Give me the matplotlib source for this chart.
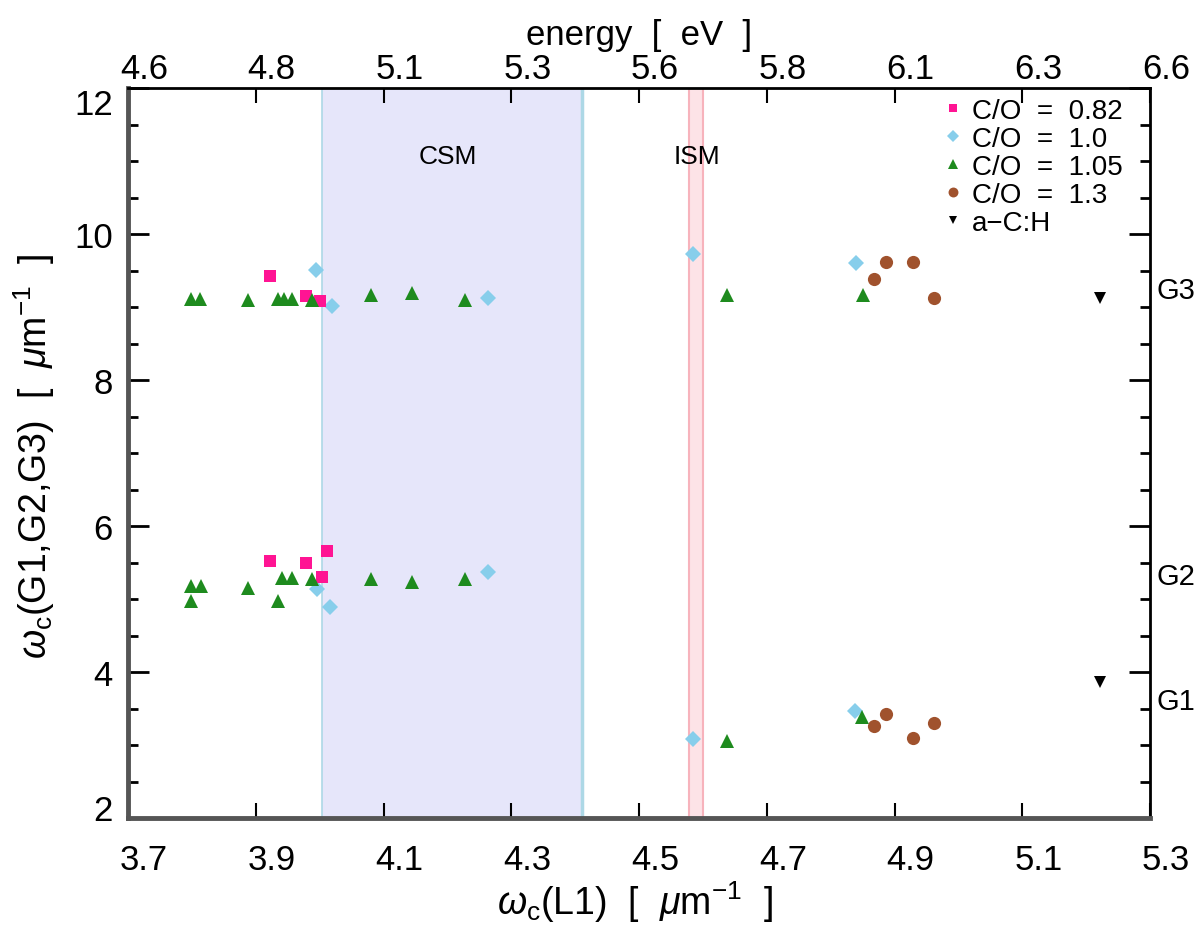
import numpy as np
import matplotlib
matplotlib.use("Agg")
from matplotlib import pyplot as plt
from matplotlib.transforms import ScaledTranslation

plt.rcParams['font.family'] = ['Liberation Sans', 'DejaVu Sans']
plt.rcParams['mathtext.fontset'] = 'custom'
plt.rcParams['mathtext.rm'] = 'Liberation Sans'
plt.rcParams['mathtext.it'] = 'Liberation Sans:italic'

# C/O = 0.82
co082_x = [3.923, 3.979, 4.000, 3.923, 3.979, 4.011, 4.003]
co082_y = [9.42, 9.15, 9.08, 5.52, 5.50, 5.66, 5.30]
# C/O = 1.0
co10_x = [3.995, 4.019, 4.264, 4.585, 4.839, 3.996, 4.017, 4.264, 4.585, 4.838]
co10_y = [9.51, 9.01, 9.12, 9.72, 9.60, 5.14, 4.89, 5.37, 3.08, 3.46]
# C/O = 1.05
co105_x = [3.798, 3.813, 3.888, 3.935, 3.944, 3.956, 3.988, 4.080, 4.145, 4.227, 4.638, 4.850,
           3.798, 3.814, 3.798, 3.888, 3.935, 3.941, 3.956, 3.988, 4.080, 4.145, 4.227,
           4.638, 4.849]
co105_y = [9.11, 9.11, 9.10, 9.11, 9.11, 9.11, 9.10, 9.16, 9.19, 9.09, 9.16, 9.16,
           5.18, 5.18, 4.97, 5.15, 4.97, 5.29, 5.29, 5.27, 5.27, 5.23, 5.27,
           3.06, 3.38]
# C/O = 1.3
co13_x = [4.868, 4.887, 4.929, 4.962, 4.868, 4.887, 4.929, 4.962]
co13_y = [9.38, 9.61, 9.61, 9.12, 3.26, 3.42, 3.09, 3.30]
# a-C:H
ach_x = [5.222, 5.222]
ach_y = [9.13, 3.86]

csm_range = [4.003, 4.41]
ism_range = [4.578, 4.600]
x_ticks = [3.7, 3.9, 4.1, 4.3, 4.5, 4.7, 4.9, 5.1, 5.3]
y_ticks = [2, 4, 6, 8, 10, 12]
g_labels = ['G3', 'G2', 'G1']
g_pos = [9.23, 5.32, 3.6]
hc = 1.23984  # eV um

fig = plt.figure(figsize=(12, 9.29), dpi=100)
ax = fig.add_axes([128/1200, 1-819/929, (1150-128)/1200, (819-89)/929])

# bandes CSM / ISM
ax.axvspan(csm_range[0], csm_range[1], color='#e6e6fa', zorder=0, lw=0)
ax.axvline(csm_range[0], color='#add8e6', lw=1.2, zorder=1)
ax.axvline(csm_range[1], color='#add8e6', lw=2.5, zorder=1)
ax.axvspan(ism_range[0], ism_range[1], facecolor='#fde3e7', edgecolor='#f7b3bc', lw=1.5, zorder=0)
ax.text(4.2, 11.07, 'CSM', fontsize=19, ha='center', va='center')
ax.text(4.59, 11.07, 'ISM', fontsize=19, ha='center', va='center')

ax.plot(co10_x, co10_y, 'D', color='#87ceeb', ms=8.5, mew=0, label='C/O  =  1.0', zorder=3)
ax.plot(co082_x, co082_y, 's', color='#ff1493', ms=8, mew=0, label='C/O  =  0.82', zorder=4)
ax.plot(co105_x, co105_y, '^', color='#1e8b1e', ms=9.5, mew=0, label='C/O  =  1.05', zorder=5)
ax.plot(co13_x, co13_y, 'o', color='#a0522d', ms=9.5, mew=0, label='C/O  =  1.3', zorder=5)
ax.plot(ach_x, ach_y, 'v', color='black', ms=8, mew=0, label='a\u2212C:H', zorder=5)

ax.set_xlim(3.7, 5.3)
ax.set_ylim(2, 12)
ax.set_xticks(x_ticks)
ax.set_xticklabels([f'{v:.1f}' for v in x_ticks])
ax.set_yticks(y_ticks)
ax.set_yticks(np.arange(2, 12.01, 0.5), minor=True)

for s in ['left', 'bottom']:
    ax.spines[s].set_color('#555555')
    ax.spines[s].set_linewidth(3.5)
for s in ['top', 'right']:
    ax.spines[s].set_color('black')
    ax.spines[s].set_linewidth(2)

# axe du haut en energie (seulement les etiquettes)
top = ax.secondary_xaxis('top', functions=(lambda x: x * hc, lambda e: e / hc))
top.set_xticks([v * hc for v in x_ticks])
top.set_xticklabels([f'{v * hc:.1f}' for v in x_ticks])
top.tick_params(axis='x', length=0, pad=8, labelsize=25)
top.spines['top'].set_visible(False)
top.set_xlabel('energy  [  eV  ]', fontsize=25, labelpad=6)

# ticks apres secondary_xaxis
ax.tick_params(axis='both', which='both', direction='in', labelsize=25, colors='black')
ax.tick_params(axis='x', which='major', length=10.5, width=1.5, pad=18,
               top=True, bottom=True, labeltop=False)
ax.tick_params(axis='y', which='major', length=15, width=2, pad=11, right=True)
ax.tick_params(axis='y', which='minor', length=7, width=2, right=True)

ax.set_xlabel(r'$\omega_{\rm c}$(L1)  [  $\mu$m$^{-1}$  ]', fontsize=27)
ax.xaxis.set_label_coords(0.496, -0.083)
ax.set_ylabel(r'$\omega_{\rm c}$(G1,G2,G3)  [  $\mu$m$^{-1}$  ]', fontsize=27)
ax.yaxis.set_label_coords(-0.069, 0.496)

for lab, yv in zip(g_labels, g_pos):
    ax.text(1.006, yv, lab, transform=ax.get_yaxis_transform(), fontsize=21,
            ha='left', va='center')

# decalage des etiquettes comme IDL
off_x = ScaledTranslation(0.16, 0, fig.dpi_scale_trans)
for lab in ax.get_xticklabels():
    lab.set_transform(lab.get_transform() + off_x)
off_top = ScaledTranslation(0.16, -0.08, fig.dpi_scale_trans)
for lab in top.get_xticklabels():
    lab.set_transform(lab.get_transform() + off_top)
ylabs = ax.get_yticklabels()
ylabs[0].set_transform(ylabs[0].get_transform() + ScaledTranslation(0, 0.11, fig.dpi_scale_trans))
ylabs[-1].set_transform(ylabs[-1].get_transform() + ScaledTranslation(0, -0.13, fig.dpi_scale_trans))

order = [1, 0, 2, 3, 4]
h, l = ax.get_legend_handles_labels()
ax.legend([h[i] for i in order], [l[i] for i in order], loc='upper right',
          bbox_to_anchor=(0.99, 1.009), frameon=False, fontsize=20,
          handletextpad=0.2, handlelength=1.0, labelspacing=0.07,
          markerscale=0.75, borderaxespad=0.2)

fig.savefig('out.png', dpi=100)
